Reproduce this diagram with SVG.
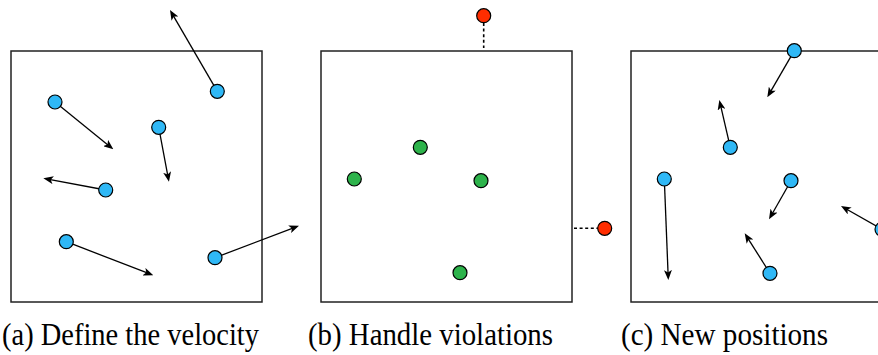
<svg xmlns="http://www.w3.org/2000/svg" width="878" height="355" viewBox="0 0 878 355">
  <style>
    .frame { fill: #ffffff; stroke: #222222; stroke-width: 1.5; }
    .vel { fill: none; stroke: #000000; stroke-width: 1.3; marker-end: url(#head); }
    .link { fill: none; stroke: #000000; stroke-width: 1.6; stroke-dasharray: 3 2.6; }
    .p { stroke: #000000; stroke-width: 1.2; }
    .blue { fill: #2fb8f6; }
    .green { fill: #2db34b; }
    .red { fill: #ff2d00; }
    .cap { font-family: "Liberation Serif", "Times New Roman", serif; font-size: 32px; fill: #000000; }
  </style>
  <defs>
    <marker id="head" viewBox="0 0 10 8" refX="7" refY="4" markerWidth="10" markerHeight="8" markerUnits="userSpaceOnUse" orient="auto">
      <path d="M0,0 L10,4 L0,8 L2.5,4 Z" fill="#000000"/>
    </marker>
  </defs>

  <rect x="0" y="0" width="878" height="355" fill="#ffffff"/>

  <!-- panel frames -->
  <g id="frame-a"><rect class="frame" x="11" y="51" width="251" height="251"/></g>
  <g id="frame-b"><rect class="frame" x="321" y="51" width="251" height="251"/></g>
  <g id="frame-c"><rect class="frame" x="631" y="51" width="251" height="251"/></g>

  <!-- connectors: velocity vectors and boundary links -->
  <g id="connectors">
    <line class="vel" x1="217.3" y1="91.3" x2="171.5" y2="12.6"/>
    <line class="vel" x1="55" y1="102" x2="111" y2="147.4"/>
    <line class="vel" x1="158.7" y1="127.3" x2="168.4" y2="178.8"/>
    <line class="vel" x1="105.7" y1="190" x2="46.3" y2="178.9"/>
    <line class="vel" x1="66.3" y1="241.7" x2="150.5" y2="274.2"/>
    <line class="vel" x1="215" y1="257.7" x2="296.2" y2="226.8"/>

    <line class="link" x1="483.7" y1="23" x2="483.7" y2="48"/>
    <line class="link" x1="574" y1="228.3" x2="598" y2="228.3"/>

    <line class="vel" x1="794.3" y1="50.7" x2="768.8" y2="94.7"/>
    <line class="vel" x1="730.3" y1="147.3" x2="720" y2="102.9"/>
    <line class="vel" x1="664.3" y1="179" x2="668.2" y2="277"/>
    <line class="vel" x1="791" y1="180.7" x2="770.5" y2="216.7"/>
    <line class="vel" x1="770" y1="273.3" x2="746.3" y2="235.8"/>
    <line class="vel" x1="882" y1="229.3" x2="843.6" y2="207.5"/>
  </g>

  <!-- particles, panel (a) -->
  <g id="a1"><circle class="p blue" cx="217.3" cy="91.3" r="7"/></g>
  <g id="a2"><circle class="p blue" cx="55" cy="102" r="7"/></g>
  <g id="a3"><circle class="p blue" cx="158.7" cy="127.3" r="7"/></g>
  <g id="a4"><circle class="p blue" cx="105.7" cy="190" r="7"/></g>
  <g id="a5"><circle class="p blue" cx="66.3" cy="241.7" r="7"/></g>
  <g id="a6"><circle class="p blue" cx="215" cy="257.7" r="7"/></g>

  <!-- particles, panel (b) -->
  <g id="b1"><circle class="p green" cx="420.3" cy="147.3" r="7"/></g>
  <g id="b2"><circle class="p green" cx="354.3" cy="179" r="7"/></g>
  <g id="b3"><circle class="p green" cx="481" cy="180.7" r="7"/></g>
  <g id="b4"><circle class="p green" cx="460" cy="272.7" r="7"/></g>
  <g id="b5"><circle class="p red" cx="483.7" cy="15.7" r="7"/></g>
  <g id="b6"><circle class="p red" cx="604.7" cy="228.3" r="7"/></g>

  <!-- particles, panel (c) -->
  <g id="c1"><circle class="p blue" cx="794.3" cy="50.7" r="7"/></g>
  <g id="c2"><circle class="p blue" cx="730.3" cy="147.3" r="7"/></g>
  <g id="c3"><circle class="p blue" cx="664.3" cy="179" r="7"/></g>
  <g id="c4"><circle class="p blue" cx="791" cy="180.7" r="7"/></g>
  <g id="c5"><circle class="p blue" cx="770" cy="273.3" r="7"/></g>
  <g id="c6"><circle class="p blue" cx="882" cy="229.3" r="7"/></g>

  <!-- captions -->
  <g id="captions" font-family="Liberation Serif, serif">
    <text class="cap" x="2" y="345" textLength="257" lengthAdjust="spacingAndGlyphs">(a) Define the velocity</text>
    <text class="cap" x="308" y="345" textLength="245" lengthAdjust="spacingAndGlyphs">(b) Handle violations</text>
    <text class="cap" x="621" y="345" textLength="207" lengthAdjust="spacingAndGlyphs">(c) New positions</text>
  </g>
</svg>
